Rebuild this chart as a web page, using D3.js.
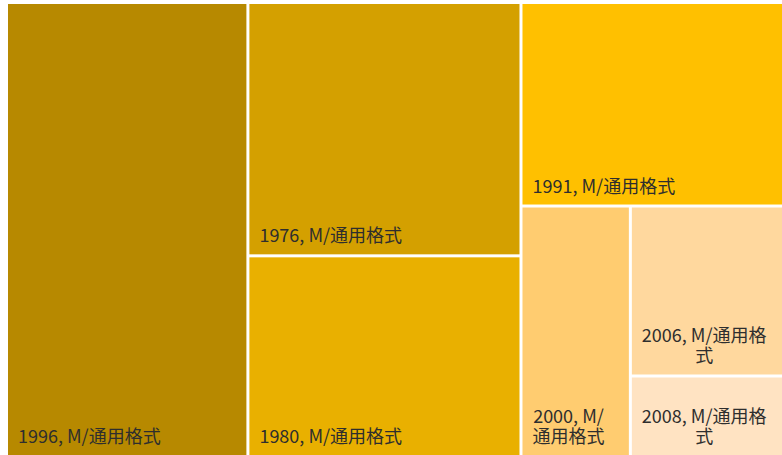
<!DOCTYPE html>
<html>
<head>
<meta charset="utf-8">
<script src="https://cdn.jsdelivr.net/npm/d3@7"></script>
<style>
  body { margin: 0; background: #ffffff; }
  svg { display: block; }
</style>
</head>
<body>
<svg id="chart" width="782" height="455"></svg>
<script>
// Treemap data: one tile per year, sized by its amount
const years   = ["1996", "1976", "1980", "1991", "2000", "2006", "2008"];
const amounts = [80, 50.5, 40, 39, 20, 19, 9];
const fills   = ["#B78900", "#D4A000", "#E9B000", "#FFC000", "#FFCC70", "#FFD89E", "#FFE3C2"];
const valueText = "M/通用格式";

const FONT_SIZE = 18;
const FONT_FAMILY = '"Noto Sans CJK SC", "Noto Sans", sans-serif';
const LINE_H = 20;
const PAD_X = 10;
const PAD_BOTTOM = 12;

const svg = d3.select("#chart");
const margin = { left: 8, top: 4 };
const width = 774, height = 451;

// Aspect ratio of a w x h rectangle (>= 1)
function aspect(w, h) { return Math.max(w / h, h / w); }

// Search every way of splitting the ordered values into successive rows
// and keep the one whose most elongated tile is the least elongated.
function plan(vals, i, x0, y0, x1, y1) {
  const n = vals.length;
  if (i >= n) return { worst: 0, rows: [] };
  const dx = x1 - x0, dy = y1 - y0;
  const total = d3.sum(vals.slice(i));
  let best = null, sum = 0;
  for (let k = 1; i + k <= n; k++) {
    sum += vals[i + k - 1];
    let worst = 0, nx0 = x0, ny0 = y0;
    if (dx < dy) {
      const h = dy * sum / total;
      for (let j = i; j < i + k; j++) worst = Math.max(worst, aspect(dx * vals[j] / sum, h));
      ny0 = y0 + h;
    } else {
      const w = dx * sum / total;
      for (let j = i; j < i + k; j++) worst = Math.max(worst, aspect(w, dy * vals[j] / sum));
      nx0 = x0 + w;
    }
    const rest = plan(vals, i + k, nx0, ny0, x1, y1);
    const score = Math.max(worst, rest.worst);
    if (!best || score < best.worst - 1e-9) best = { worst: score, rows: [k].concat(rest.rows) };
  }
  return best;
}

function minMaxTile(parent, x0, y0, x1, y1) {
  const nodes = parent.children;
  const layout = plan(nodes.map(d => d.value), 0, x0, y0, x1, y1);
  let i = 0, value = parent.value;
  for (const k of layout.rows) {
    const kids = nodes.slice(i, i + k);
    const row = { children: kids, value: d3.sum(kids, d => d.value) };
    const dx = x1 - x0, dy = y1 - y0;
    if (dx < dy) {
      const yb = y0 + dy * row.value / value;
      d3.treemapDice(row, x0, y0, x1, yb);
      y0 = yb;
    } else {
      const xb = x0 + dx * row.value / value;
      d3.treemapSlice(row, x0, y0, xb, y1);
      x0 = xb;
    }
    value -= row.value;
    i += k;
  }
}

const root = d3.hierarchy({
  children: years.map((y, i) => ({ year: y, amount: amounts[i], fill: fills[i] }))
}).sum(d => d.amount || 0);

d3.treemap()
  .tile(minMaxTile)
  .size([width, height])
  .paddingInner(3)(root);

const g = svg.append("g").attr("transform", `translate(${margin.left},${margin.top})`);

const leaves = g.selectAll("g.leaf")
  .data(root.leaves())
  .join("g")
  .attr("class", "leaf");

leaves.append("rect")
  .attr("x", d => d.x0)
  .attr("y", d => d.y0)
  .attr("width", d => d.x1 - d.x0)
  .attr("height", d => d.y1 - d.y0)
  .attr("fill", d => d.data.fill);

// Text measurement and wrapping (CJK characters may break anywhere)
const ctx = document.createElement("canvas").getContext("2d");
ctx.font = `${FONT_SIZE}px ${FONT_FAMILY}`;
const measure = s => ctx.measureText(s).width;

function tokenize(s) {
  const out = [];
  let buf = "";
  for (const ch of s) {
    if (/[\u3000-\u9fff]/.test(ch)) {
      if (buf) { out.push(buf); buf = ""; }
      out.push(ch);
    } else if (ch === " ") {
      if (buf) { out.push(buf); buf = ""; }
      out.push(" ");
    } else {
      buf += ch;
    }
  }
  if (buf) out.push(buf);
  return out;
}

function wrap(s, maxW) {
  const lines = [];
  let line = "";
  for (const t of tokenize(s)) {
    const test = line + t;
    if (line && measure(test.trimEnd()) > maxW) {
      lines.push(line.trimEnd());
      line = t === " " ? "" : t;
    } else {
      line = test;
    }
  }
  if (line.trim()) lines.push(line.trimEnd());
  return lines;
}

leaves.each(function (d) {
  const label = `${d.data.year}, ${valueText}`;
  const avail = d.x1 - d.x0 - 2 * PAD_X;
  const lines = wrap(label, avail);
  const boxW = d3.max(lines, measure);
  const cx = d.x0 + PAD_X + boxW / 2;
  const lastBase = d.y1 - PAD_BOTTOM;
  const text = d3.select(this).append("text")
    .attr("font-family", FONT_FAMILY)
    .attr("font-size", FONT_SIZE)
    .attr("fill", "#2e2e2e")
    .attr("text-anchor", "middle");
  lines.forEach((ln, i) => {
    text.append("tspan")
      .attr("x", cx)
      .attr("y", lastBase - (lines.length - 1 - i) * LINE_H)
      .text(ln);
  });
});
</script>
</body>
</html>
